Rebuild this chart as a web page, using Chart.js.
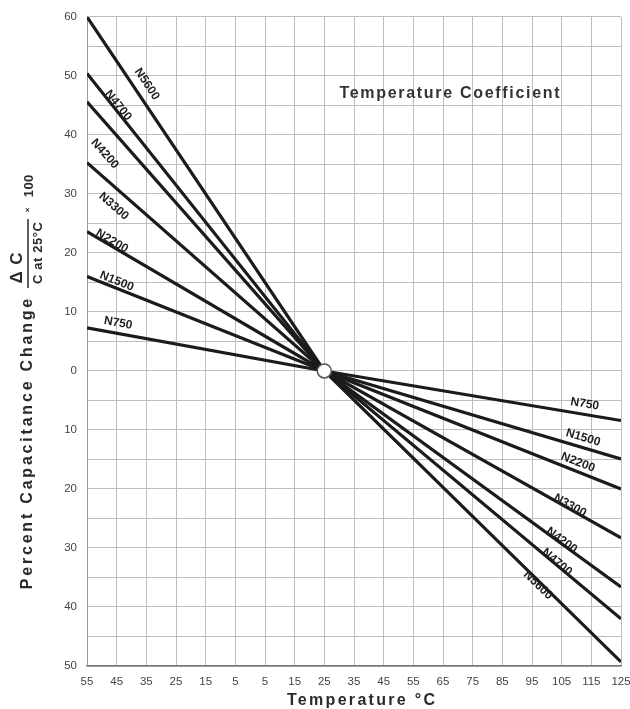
<!DOCTYPE html>
<html>
<head>
<meta charset="utf-8">
<script src="https://cdn.jsdelivr.net/npm/chart.js@4.4.0/dist/chart.umd.min.js"></script>
<style>
  body { margin: 0; background: #fff; }
  #wrap { width: 630px; height: 709px; position: relative; }
</style>
</head>
<body>
<div id="wrap"><canvas id="tcChart"></canvas></div>
<script>
// Temperature points (ends and the 25 C reference point)
const temps = [-55, 25, 125];

// Percent capacitance change for each coefficient
const n750  = [7.3, 0, -8.4];
const n1500 = [16.0, 0, -14.9];
const n2200 = [23.6, 0, -20.0];
const n3300 = [35.3, 0, -28.3];
const n4200 = [45.6, 0, -36.6];
const n4700 = [50.4, 0, -42.0];
const n5600 = [60.0, 0, -49.3];

const seriesNames = ['N750', 'N1500', 'N2200', 'N3300', 'N4200', 'N4700', 'N5600'];
const seriesValues = [n750, n1500, n2200, n3300, n4200, n4700, n5600];

// Where the curve names sit (data coords), cold side and hot side
const leftLabelX  = [-44.5, -45.0, -46.6, -46.0, -49.0, -44.5, -34.8];
const leftLabelY  = [8.1, 15.2, 22.0, 27.9, 36.8, 45.0, 48.6];
const rightLabelX = [112.8, 112.2, 110.5, 107.8, 105.0, 103.4, 97.0];
const rightLabelY = [-5.6, -11.3, -15.5, -22.8, -28.7, -32.4, -36.3];

// Reference point
const refPoint = [{ x: 25, y: 0 }];

// Axis ranges
const xMin = -55, xMax = 125, xStep = 10;
const yMin = -50, yMax = 60, yStep = 5;

const lineDatasets = seriesNames.map((name, i) => ({
    label: name,
    data: temps.map((t, j) => ({ x: t, y: seriesValues[i][j] })),
    borderColor: '#1b1b1b',
    borderWidth: 3.2,
    pointRadius: 0,
    tension: 0,
    order: 2
}));

// draws a text centred on (x, y), rotated, stretched by letter spacing
function spacedText(ctx, text, x, y, angle, font, spacing) {
    ctx.save();
    ctx.translate(x, y);
    ctx.rotate(angle);
    ctx.font = font;
    ctx.letterSpacing = spacing + 'px';
    ctx.textAlign = 'center';
    ctx.textBaseline = 'middle';
    ctx.fillText(text, spacing / 2, 0);
    ctx.restore();
}

const FONT = '"Liberation Sans", Arial, sans-serif';

const annotations = {
    id: 'annotations',
    afterDatasetsDraw(chart) {
        const ctx = chart.ctx;
        const xs = chart.scales.x, ys = chart.scales.y;
        ctx.fillStyle = '#1e1e1e';

        // curve names along each line
        seriesNames.forEach((name, i) => {
            const v = seriesValues[i];
            const p0 = [xs.getPixelForValue(temps[0]), ys.getPixelForValue(v[0])];
            const p1 = [xs.getPixelForValue(temps[1]), ys.getPixelForValue(v[1])];
            const p2 = [xs.getPixelForValue(temps[2]), ys.getPixelForValue(v[2])];
            const aLeft = Math.atan2(p1[1] - p0[1], p1[0] - p0[0]);
            const aRight = Math.atan2(p2[1] - p1[1], p2[0] - p1[0]);
            spacedText(ctx, name, xs.getPixelForValue(leftLabelX[i]), ys.getPixelForValue(leftLabelY[i]),
                aLeft, 'bold 12px ' + FONT, 0);
            spacedText(ctx, name, xs.getPixelForValue(rightLabelX[i]), ys.getPixelForValue(rightLabelY[i]),
                aRight, 'bold 12px ' + FONT, 0);
        });

        // chart caption inside the grid
        ctx.fillStyle = '#333';
        spacedText(ctx, 'Temperature Coefficient', xs.getPixelForValue(67.2), ys.getPixelForValue(47),
            0, 'bold 16px ' + FONT, 1.7);
    },
    afterDraw(chart) {
        const ctx = chart.ctx;
        ctx.fillStyle = '#2a2a2a';

        // x axis title
        spacedText(ctx, 'Temperature °C', 361, 701, 0, 'bold 16px ' + FONT, 2.3);

        // y axis title, read bottom to top
        const up = -Math.PI / 2;
        spacedText(ctx, 'Percent Capacitance Change', 28, 444, up, 'bold 16px ' + FONT, 2.8);
        spacedText(ctx, '\u0394 C', 17, 268, up, 'bold 17px ' + FONT, 1);
        spacedText(ctx, 'C at 25°C', 38, 253, up, 'bold 13px ' + FONT, 0.6);
        ctx.strokeStyle = '#2a2a2a';
        ctx.lineWidth = 1.5;
        ctx.beginPath();
        ctx.moveTo(28, 219);
        ctx.lineTo(28, 288);
        ctx.stroke();
        spacedText(ctx, '\u00d7', 28, 210, up, 'bold 8px ' + FONT, 0);
        spacedText(ctx, '100', 29, 186, up, 'bold 13px ' + FONT, 0.5);
    }
};

new Chart(document.getElementById('tcChart'), {
    type: 'line',
    data: {
        datasets: [
            {
                label: 'ref',
                data: refPoint,
                showLine: false,
                pointRadius: 7,
                pointBackgroundColor: '#fff',
                pointBorderColor: '#555',
                pointBorderWidth: 1.5,
                order: 0
            },
            ...lineDatasets
        ]
    },
    plugins: [annotations],
    options: {
        responsive: true,
        maintainAspectRatio: false,
        animation: false,
        events: [],
        layout: { padding: { top: 15, right: 9, left: 0, bottom: 0 } },
        plugins: {
            legend: { display: false },
            tooltip: { enabled: false }
        },
        scales: {
            x: {
                type: 'linear',
                min: xMin,
                max: xMax,
                ticks: {
                    stepSize: xStep,
                    padding: 9,
                    color: '#444',
                    font: { family: FONT, size: 11.5 },
                    maxRotation: 0,
                    autoSkip: false,
                    callback: v => Math.abs(v)
                },
                grid: { color: '#bdbdbd', lineWidth: 1, drawTicks: false },
                border: { color: '#777', width: 1.5 },
                afterFit: s => { s.height = 43; s.paddingRight = 0; s.paddingLeft = 0; }
            },
            y: {
                type: 'linear',
                min: yMin,
                max: yMax,
                ticks: {
                    stepSize: yStep,
                    padding: 10,
                    color: '#444',
                    font: { family: FONT, size: 11.5 },
                    autoSkip: false,
                    callback: v => (v % 10 === 0 ? Math.abs(v) : '')
                },
                grid: { color: '#bdbdbd', lineWidth: 1, drawTicks: false },
                border: { color: '#999', width: 1 },
                afterFit: s => { s.width = 87; }
            }
        }
    }
});
</script>
</body>
</html>
